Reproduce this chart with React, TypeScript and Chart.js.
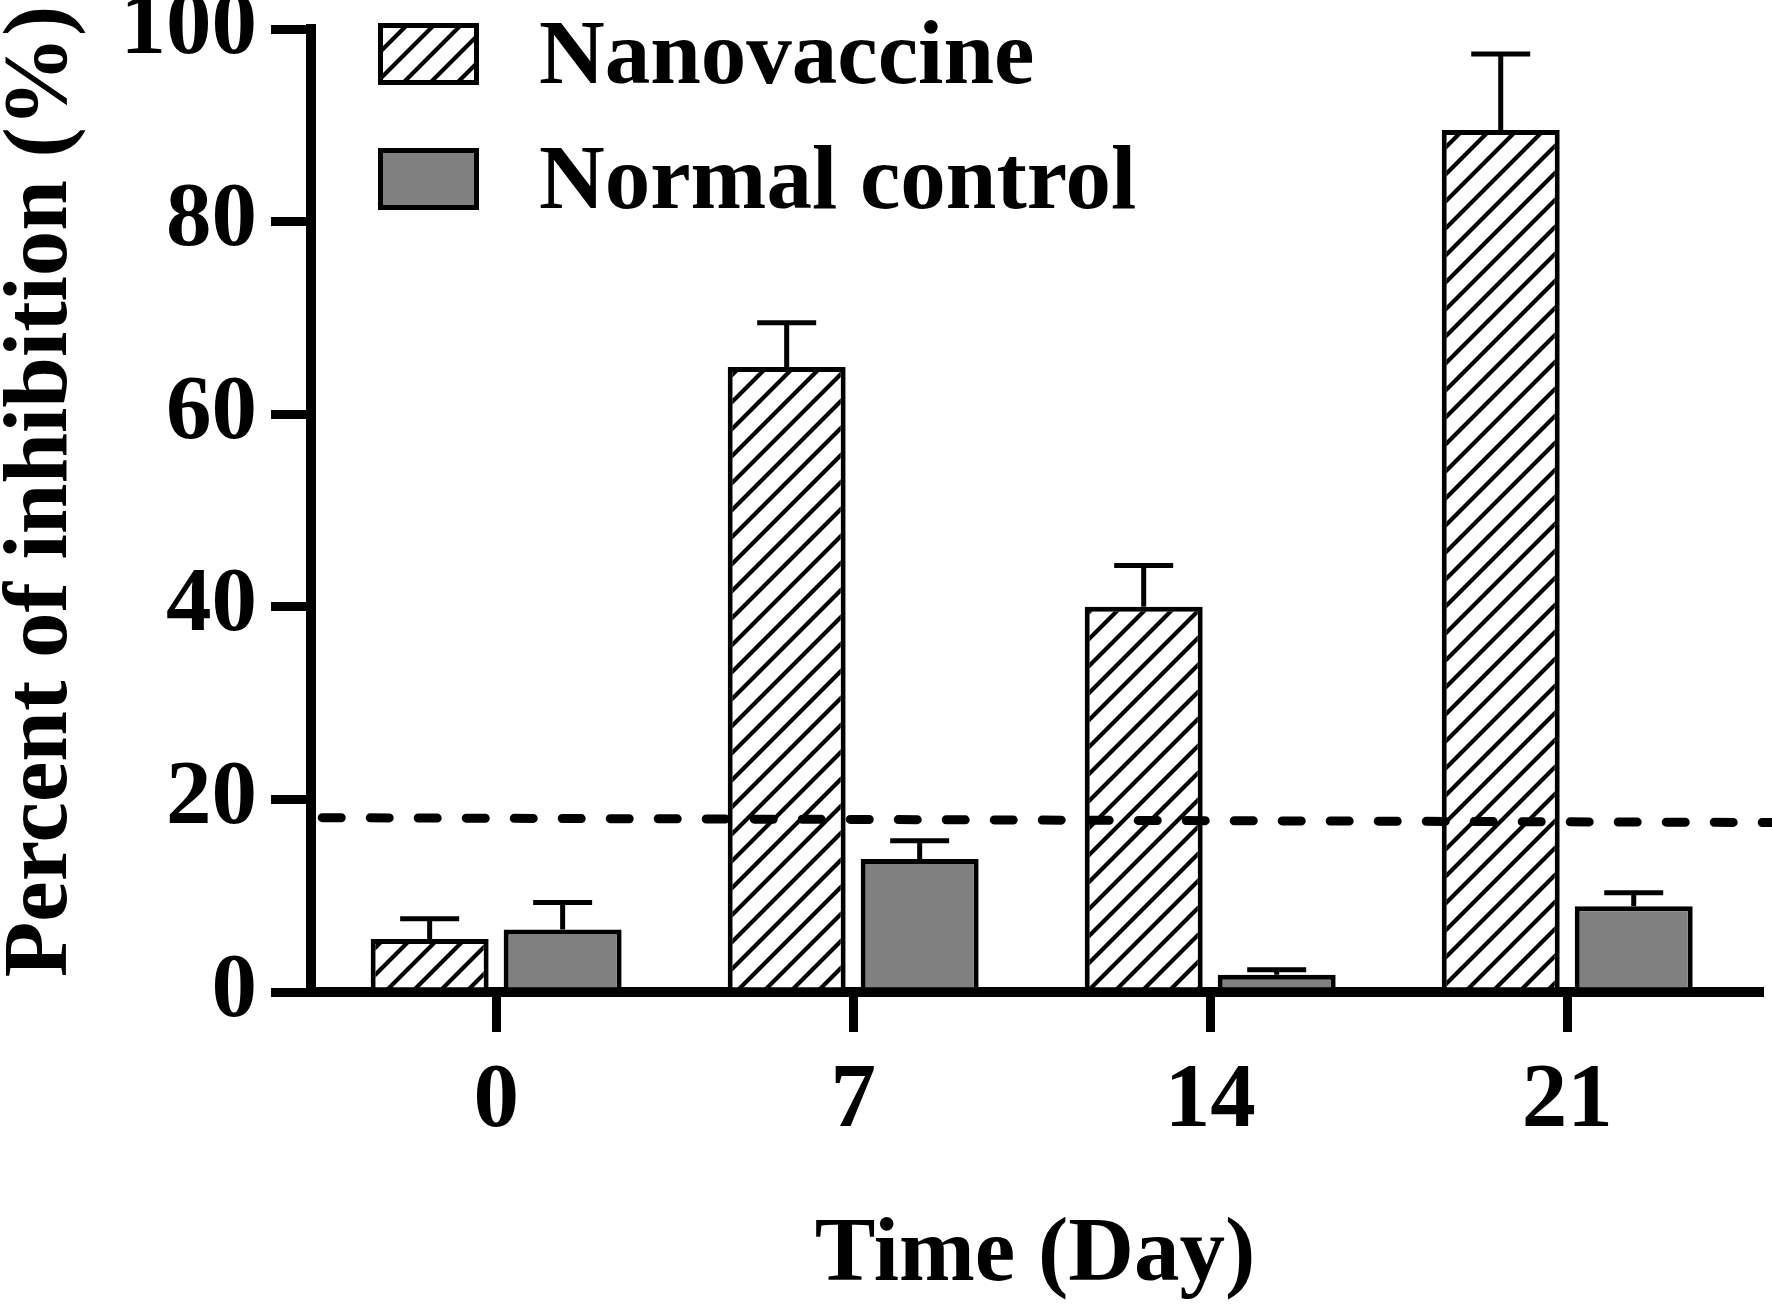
import React, { useEffect, useRef } from "react";
import { Chart, registerables } from "chart.js";

Chart.register(...registerables);

const days = [0, 7, 14, 21];
const nanovaccine = [5.5, 64.9, 40.0, 89.5];
const nanovaccineErr = [2.1, 4.6, 4.3, 7.9];
const normalControl = [6.5, 13.8, 1.8, 8.9];
const normalControlErr = [2.8, 1.9, 0.5, 1.4];
const yTicks = [0, 20, 40, 60, 80, 100];
// dashed cut-off line, a little tilted in the original figure
const cutoffDays = [-3.41, 25.05];
const cutoffValues = [18.1, 17.6];

const FONT = '"Liberation Serif", "Times New Roman", serif';
const GRAY = "#808080";
const FONT_SIZE = 91;

function makeHatch(): CanvasPattern | string {
  const size = 27;
  const c = document.createElement("canvas");
  c.width = size;
  c.height = size;
  const g = c.getContext("2d");
  if (!g) return "#fff";
  g.fillStyle = "#fff";
  g.fillRect(0, 0, size, size);
  g.strokeStyle = "#000";
  g.lineWidth = 4.2;
  g.beginPath();
  g.moveTo(0, size);
  g.lineTo(size, 0);
  g.moveTo(-3, 3);
  g.lineTo(3, -3);
  g.moveTo(size - 3, size + 3);
  g.lineTo(size + 3, size - 3);
  g.stroke();
  const p = g.createPattern(c, "repeat");
  return p || "#fff";
}

const App: React.FC = () => {
  const chartRef = useRef<HTMLCanvasElement | null>(null);

  useEffect(() => {
    document.body.style.margin = "0";
    const canvas = chartRef.current;
    if (!canvas) return;
    const context = canvas.getContext("2d");
    if (!context) return;

    const hatch = makeHatch();
    const values = [nanovaccine, normalControl];
    const errors = [nanovaccineErr, normalControlErr];

    const errorBars = {
      id: "errorBars",
      afterDatasetsDraw(chart: any) {
        const ctx = chart.ctx;
        const y = chart.scales.y;
        errors.forEach((errs, di) => {
          const meta = chart.getDatasetMeta(di);
          meta.data.forEach((bar: any, i: number) => {
            const top = y.getPixelForValue(values[di][i] + errs[i]);
            const half = bar.width / 4;
            ctx.save();
            ctx.strokeStyle = "#000";
            ctx.lineWidth = 5;
            ctx.beginPath();
            ctx.moveTo(bar.x, bar.y);
            ctx.lineTo(bar.x, top);
            ctx.moveTo(bar.x - half, top);
            ctx.lineTo(bar.x + half, top);
            ctx.stroke();
            ctx.restore();
          });
        });
      },
    };

    const extras = {
      id: "extras",
      afterDraw(chart: any) {
        const ctx = chart.ctx;
        const area = chart.chartArea;
        ctx.save();
        ctx.fillStyle = "#000";
        ctx.font = `bold ${FONT_SIZE}px ${FONT}`;

        // y axis title
        ctx.save();
        ctx.translate(66, (area.top + area.bottom) / 2 - 19);
        ctx.rotate(-Math.PI / 2);
        ctx.textAlign = "center";
        ctx.textBaseline = "alphabetic";
        ctx.fillText("Percent of inhibition (%)", 0, 0);
        ctx.restore();

        // legend
        const boxLeft = area.left + 67;
        const rowTops = [23, 148];
        chart.data.datasets.slice(0, 2).forEach((ds: any, i: number) => {
          const top = rowTops[i];
          ctx.fillStyle = ds.backgroundColor;
          ctx.fillRect(boxLeft, top, 101, 62);
          ctx.strokeStyle = "#000";
          ctx.lineWidth = 5;
          ctx.strokeRect(boxLeft + 2.5, top + 2.5, 101 - 5, 62 - 5);
          ctx.fillStyle = "#000";
          ctx.textAlign = "left";
          ctx.textBaseline = "alphabetic";
          ctx.fillText(ds.label, boxLeft + 161, top + 60);
        });
        ctx.restore();
      },
    };

    const tickFont = { family: FONT, size: FONT_SIZE, weight: "bold" as const };

    const chart = new Chart(context, {
      type: "bar",
      data: {
        datasets: [
          {
            type: "bar",
            label: "Nanovaccine",
            data: days.map((d, i) => ({ x: d, y: nanovaccine[i] })),
            backgroundColor: hatch as any,
            borderColor: "#000",
            borderWidth: 5,
            borderSkipped: "bottom",
            barPercentage: 0.887,
            categoryPercentage: 0.745,
            order: 2,
          },
          {
            type: "bar",
            label: "Normal control",
            data: days.map((d, i) => ({ x: d, y: normalControl[i] })),
            backgroundColor: GRAY,
            borderColor: "#000",
            borderWidth: 5,
            borderSkipped: "bottom",
            barPercentage: 0.887,
            categoryPercentage: 0.745,
            order: 2,
          },
          {
            type: "line",
            label: "cutoff",
            data: cutoffDays.map((d, i) => ({ x: d, y: cutoffValues[i] })),
            borderColor: "#000",
            borderWidth: 9,
            borderDash: [19, 29],
            borderCapStyle: "round",
            pointRadius: 0,
            fill: false,
            clip: false as any,
            order: 0,
          } as any,
        ],
      },
      options: {
        animation: false,
        responsive: false,
        layout: { padding: { left: 0, top: 29, right: 13, bottom: 0 } },
        plugins: {
          legend: { display: false },
          tooltip: { enabled: false },
        },
        scales: {
          x: {
            type: "linear",
            min: -3.63,
            max: 24.76,
            offset: false,
            afterBuildTicks: (s: any) => {
              s.ticks = days.map((v) => ({ value: v }));
            },
            afterFit: (s: any) => {
              s.height = 319;
              s.paddingLeft = 0;
              s.paddingRight = 0;
            },
            ticks: {
              font: tickFont,
              color: "#000",
              padding: 16,
              autoSkip: false,
              maxRotation: 0,
              callback: (v: any) => String(v),
            },
            grid: {
              offset: false,
              drawOnChartArea: false,
              drawTicks: true,
              tickLength: 40,
              lineWidth: 9,
              color: "#000",
            },
            border: { display: true, width: 10, color: "#000" },
            title: {
              display: true,
              text: "Time (Day)",
              font: tickFont,
              color: "#000",
              padding: 0,
            },
          },
          y: {
            min: 0,
            max: 100,
            afterBuildTicks: (s: any) => {
              s.ticks = yTicks.map((v) => ({ value: v }));
            },
            afterFit: (s: any) => {
              s.width = 311;
              s.paddingTop = 0;
              s.paddingBottom = 0;
            },
            ticks: { font: tickFont, color: "#000", padding: 14 },
            grid: {
              drawOnChartArea: false,
              drawTicks: true,
              tickLength: 40,
              lineWidth: 9,
              color: "#000",
            },
            border: { display: true, width: 10, color: "#000" },
          },
        },
      },
      plugins: [errorBars, extras],
    });

    return () => {
      chart.destroy();
    };
  }, []);

  return (
    <div style={{ width: 1772, height: 1311, background: "#fff" }}>
      <canvas ref={chartRef} width={1772} height={1311} />
    </div>
  );
};

export default App;
